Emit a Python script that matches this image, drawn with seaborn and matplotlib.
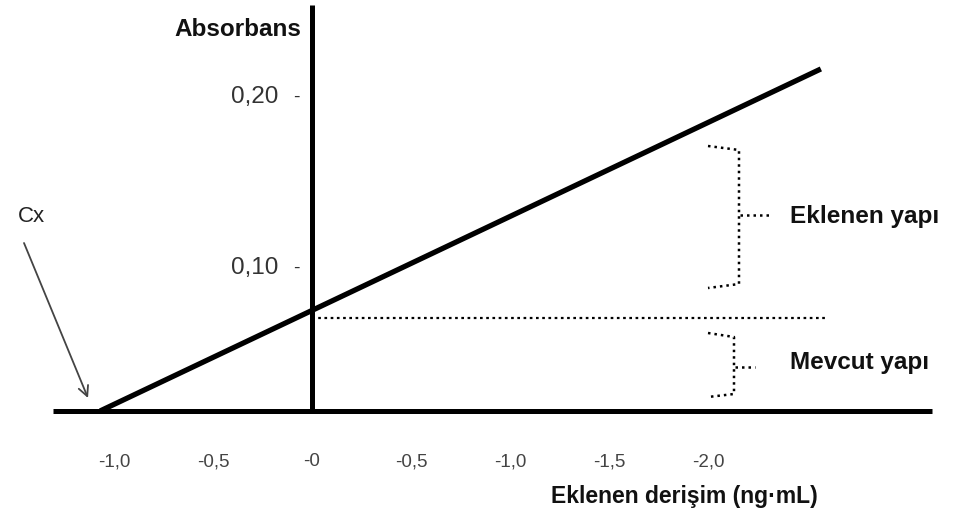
import matplotlib
matplotlib.use("Agg")
import matplotlib.pyplot as plt
import seaborn as sns
import pandas as pd

# ---- data ----
added_conc = [-1.07, 2.57]            # ng/mL, ends of calibration line
absorbance = [0.0164, 0.2164]
x_ticks = [-1.0, -0.5, 0.0, 0.5, 1.0, 1.5, 2.0]
x_tick_labels = ["-1,0", "-0,5", "-0", "-0,5", "-1,0", "-1,5", "-2,0"]
y_ticks = [0.10, 0.20]
y_tick_labels = ["0,10", "0,20"]
baseline = 0.0164          # level of drawn x-axis
existing_level = 0.0705    # dotted line (signal of existing analyte)

sns.set_theme(style="white")
plt.rcParams['font.family'] = ['Liberation Sans', 'DejaVu Sans']

fig = plt.figure(figsize=(9.54, 5.22), dpi=100)
ax = fig.add_axes([0, 0, 1, 1])

def px_x(p):  # pixel -> data x
    return (p - 312) / 198.0

def px_y(p):  # pixel (from top) -> data y
    return 0.10 - (p - 268) / 1710.0

ax.set_xlim(px_x(0), px_x(954))
ax.set_ylim(px_y(522), px_y(0))
ax.axis("off")

df = pd.DataFrame({"x": added_conc, "y": absorbance})
sns.lineplot(data=df, x="x", y="y", ax=ax, color="black", lw=3.8,
             solid_capstyle="butt")

# axes lines
ax.plot([px_x(53), px_x(932)], [baseline, baseline], color="black", lw=3.6,
        solid_capstyle="butt")
ax.plot([0, 0], [baseline, px_y(5)], color="black", lw=3.6,
        solid_capstyle="butt")

# x tick labels
for xv, lab in zip(x_ticks, x_tick_labels):
    ax.text(xv, px_y(462), lab, ha="center", va="center", fontsize=13.5,
            color="#444444")

# y tick labels
for yv, lab in zip(y_ticks, y_tick_labels):
    ax.text(px_x(278), yv, lab, ha="right", va="center", fontsize=17.5,
            color="#333333")
    ax.text(px_x(296), yv, "-", ha="center", va="center", fontsize=14,
            color="#333333")

# axis titles
ax.text(px_x(301), px_y(30), "Absorbans", ha="right", va="center",
        fontsize=17.5, fontweight="bold", color="#111111")
ax.text(px_x(684), px_y(497), "Eklenen derişim (ng·mL)", ha="center",
        va="center", fontsize=16.5, fontweight="bold", color="#111111")

# dotted horizontal line
ax.plot([0, px_x(828)], [existing_level, existing_level], color="black",
        lw=1.6, linestyle=(0, (1.2, 1.6)))

# brackets
dot = dict(color="black", lw=1.8, linestyle=(0, (1.0, 1.6)))
# upper (added)
ax.plot([px_x(708), px_x(739), px_x(739), px_x(708)],
        [px_y(146), px_y(150), px_y(284), px_y(288)], **dot)
ax.plot([px_x(740), px_x(770)], [px_y(215), px_y(215)], **dot)
# lower (existing)
ax.plot([px_x(708), px_x(734), px_x(734), px_x(708)],
        [px_y(333), px_y(337), px_y(394), px_y(397)], **dot)
ax.plot([px_x(735), px_x(755)], [px_y(367), px_y(367)], **dot)

ax.text(px_x(790), px_y(216), "Eklenen yapı", ha="left", va="center",
        fontsize=17.5, fontweight="bold", color="#111111")
ax.text(px_x(790), px_y(362), "Mevcut yapı", ha="left", va="center",
        fontsize=17.5, fontweight="bold", color="#111111")

# Cx annotation
ax.text(px_x(31), px_y(216), "Cx", ha="center", va="center", fontsize=16,
        color="#222222")
ax.annotate("", xy=(px_x(88), px_y(398)), xytext=(px_x(24), px_y(243)),
            arrowprops=dict(arrowstyle="->", color="#444444", lw=1.3,
                            shrinkA=0, shrinkB=0, mutation_scale=18))

fig.savefig("out.png", dpi=100)
